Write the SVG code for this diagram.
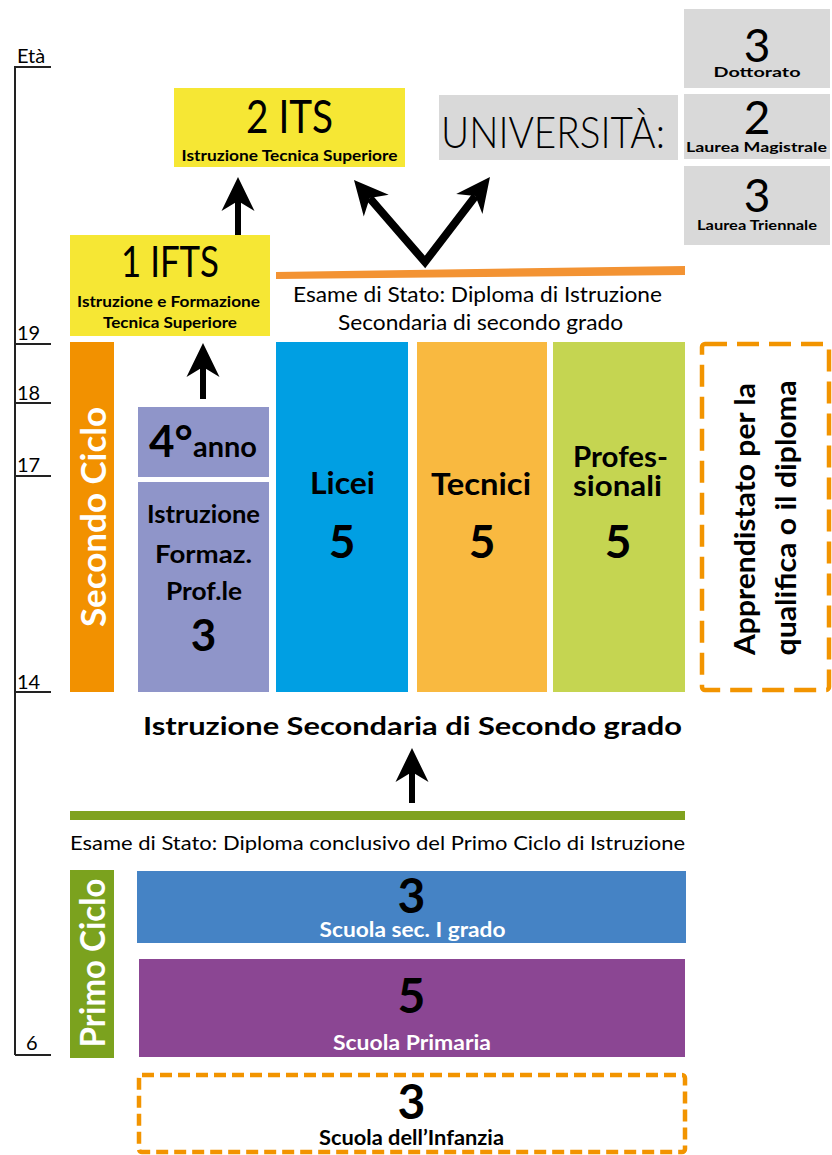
<svg xmlns="http://www.w3.org/2000/svg" width="832" height="1155" viewBox="0 0 832 1155">
<style>
text{font-family:Lato,"Open Sans","Liberation Sans",sans-serif;fill:#000}
.b{font-weight:700}
.w{fill:#fff}
.m{text-anchor:middle}
.ax{stroke:#222;stroke-width:2;fill:none}
.age{font-size:20px}
.dash{fill:none;stroke:#F29400;stroke-width:4.5}
.uni{fill:#D9D9D9}
.yel{fill:#F6E734}
</style>
<defs>
<marker id="ah" markerUnits="userSpaceOnUse" markerWidth="40" markerHeight="40" viewBox="-2 -20 40 40" refX="10" refY="0" orient="auto-start-reverse">
<path d="M34,0 L0,-16.5 L10,0 L0,16.5 Z" fill="#000"/>
</marker>
</defs>
<rect width="832" height="1155" fill="#fff"/>

<g id="age-axis">
<path class="ax" d="M15,66 V1055"/>
<path class="ax" d="M15,67 H51 M15,344 H51 M15,403 H51 M15,476 H51 M15,692 H51 M15,1055 H51"/>
<text class="age" x="17" y="63">Età</text>
<text class="age" x="17" y="340">19</text>
<text class="age" x="17" y="400">18</text>
<text class="age" x="17" y="472">17</text>
<text class="age" x="17" y="689">14</text>
<text class="age" x="26" y="1050">6</text>
</g>

<g id="its">
<rect class="yel" x="174" y="88" width="231" height="79"/>
<text class="m" x="289.5" y="133" font-size="46" textLength="87" lengthAdjust="spacingAndGlyphs">2 ITS</text>
<text class="b m" x="289.5" y="161" font-size="15" textLength="216" lengthAdjust="spacingAndGlyphs">Istruzione Tecnica Superiore</text>
</g>

<g id="ifts">
<rect class="yel" x="70" y="235" width="200" height="101"/>
<text class="m" x="170" y="277" font-size="42" textLength="98" lengthAdjust="spacingAndGlyphs">1 IFTS</text>
<text class="b m" x="168.5" y="307" font-size="15" textLength="183" lengthAdjust="spacingAndGlyphs">Istruzione e Formazione</text>
<text class="b m" x="170" y="328" font-size="15" textLength="134" lengthAdjust="spacingAndGlyphs">Tecnica Superiore</text>
</g>

<g id="universita">
<rect class="uni" x="439" y="95" width="239" height="65"/>
<text x="441" y="148" font-size="44" font-weight="300" textLength="224" lengthAdjust="spacingAndGlyphs">UNIVERSITÀ:</text>
</g>

<g id="dottorato">
<rect class="uni" x="684" y="9" width="146" height="79"/>
<text class="m" x="757" y="62" font-size="46">3</text>
<text class="b m" x="757" y="77" font-size="14" textLength="87" lengthAdjust="spacingAndGlyphs">Dottorato</text>
</g>

<g id="magistrale">
<rect class="uni" x="684" y="94" width="146" height="65"/>
<text class="m" x="757" y="134" font-size="46">2</text>
<text class="b m" x="756.5" y="152" font-size="14" textLength="141" lengthAdjust="spacingAndGlyphs">Laurea Magistrale</text>
</g>

<g id="triennale">
<rect class="uni" x="684" y="166" width="146" height="79"/>
<text class="m" x="757" y="212" font-size="46">3</text>
<text class="b m" x="757" y="230" font-size="14" textLength="120" lengthAdjust="spacingAndGlyphs">Laurea Triennale</text>
</g>

<g id="esame-secondo">
<polygon points="276,272 685,266 685,275 276,279" fill="#F39333"/>
<text class="m" x="477.5" y="302" font-size="21" textLength="369" lengthAdjust="spacingAndGlyphs">Esame di Stato: Diploma di Istruzione</text>
<text class="m" x="480.5" y="330" font-size="21" textLength="285" lengthAdjust="spacingAndGlyphs">Secondaria di secondo grado</text>
</g>

<g id="secondo-ciclo">
<rect x="70" y="342" width="44" height="350" fill="#F29100"/>
<text class="b w m" transform="translate(106,517) rotate(-90)" font-size="34" textLength="220" lengthAdjust="spacingAndGlyphs">Secondo Ciclo</text>
</g>

<g id="quarto-anno">
<rect x="138" y="407" width="131" height="70" fill="#8F95C9"/>
<text class="b" y="457"><tspan x="149" font-size="44">4°</tspan><tspan x="193" font-size="28" textLength="64" lengthAdjust="spacingAndGlyphs">anno</tspan></text>
</g>

<g id="iefp">
<rect x="138" y="482" width="131" height="210" fill="#8F95C9"/>
<text class="b m" x="203.5" y="523" font-size="25" textLength="113" lengthAdjust="spacingAndGlyphs">Istruzione</text>
<text class="b m" x="203.5" y="563" font-size="25" textLength="97" lengthAdjust="spacingAndGlyphs">Formaz.</text>
<text class="b m" x="204" y="600" font-size="25" textLength="76" lengthAdjust="spacingAndGlyphs">Prof.le</text>
<text class="b m" x="203.5" y="651" font-size="44">3</text>
</g>

<g id="licei">
<rect x="276" y="342" width="132" height="350" fill="#009FE3"/>
<text class="b m" x="342.5" y="494" font-size="30" textLength="65" lengthAdjust="spacingAndGlyphs">Licei</text>
<text class="b m" x="342" y="558" font-size="46">5</text>
</g>

<g id="tecnici">
<rect x="417" y="342" width="130" height="350" fill="#F9B940"/>
<text class="b m" x="481" y="495" font-size="30" textLength="100" lengthAdjust="spacingAndGlyphs">Tecnici</text>
<text class="b m" x="482" y="558" font-size="46">5</text>
</g>

<g id="professionali">
<rect x="553" y="342" width="132" height="350" fill="#C5D551"/>
<text class="b m" x="620.5" y="467" font-size="28" textLength="95" lengthAdjust="spacingAndGlyphs">Profes-</text>
<text class="b m" x="617.5" y="496" font-size="28" textLength="89" lengthAdjust="spacingAndGlyphs">sionali</text>
<text class="b m" x="618" y="558" font-size="46">5</text>
</g>

<g id="apprendistato">
<rect class="dash" x="702" y="344" width="127" height="346" rx="3" stroke-dasharray="22 10"/>
<text class="b m" transform="translate(755,519) rotate(-90)" font-size="28" textLength="272" lengthAdjust="spacingAndGlyphs">Apprendistato per la</text>
<text class="b m" transform="translate(796,518) rotate(-90)" font-size="28" textLength="275" lengthAdjust="spacingAndGlyphs">qualifica o il diploma</text>
</g>

<g id="secondaria-label">
<text class="b m" x="412.5" y="735" font-size="24" textLength="539" lengthAdjust="spacingAndGlyphs">Istruzione Secondaria di Secondo grado</text>
</g>

<g id="esame-primo">
<rect x="70" y="811" width="615" height="9" fill="#80A21F"/>
<text class="m" x="377.5" y="850" font-size="20" textLength="615" lengthAdjust="spacingAndGlyphs">Esame di Stato: Diploma conclusivo del Primo Ciclo di Istruzione</text>
</g>

<g id="primo-ciclo">
<rect x="70" y="870" width="44" height="188" fill="#7BA21E"/>
<text class="b w m" transform="translate(105,963) rotate(-90)" font-size="34" textLength="169" lengthAdjust="spacingAndGlyphs">Primo Ciclo</text>
</g>

<g id="secondaria-primo-grado">
<rect x="137" y="871" width="549" height="72" fill="#4583C5"/>
<text class="b m" x="411.5" y="913" font-size="48">3</text>
<text class="b w m" x="412.5" y="937" font-size="20" textLength="186" lengthAdjust="spacingAndGlyphs">Scuola sec. I grado</text>
</g>

<g id="primaria">
<rect x="139" y="959" width="546" height="98" fill="#8B4693"/>
<text class="b m" x="411.5" y="1013" font-size="48">5</text>
<text class="b w m" x="412" y="1050" font-size="20" textLength="158" lengthAdjust="spacingAndGlyphs">Scuola Primaria</text>
</g>

<g id="infanzia">
<rect class="dash" x="139" y="1075" width="546" height="77" rx="3" stroke-dasharray="12 6"/>
<text class="b m" x="411.5" y="1119" font-size="48">3</text>
<text class="b m" x="411.5" y="1145" font-size="20" textLength="185" lengthAdjust="spacingAndGlyphs">Scuola dell’Infanzia</text>
</g>

<g id="connectors" fill="none" stroke="#000">
<line x1="238" y1="235" x2="238" y2="201" stroke-width="6" marker-end="url(#ah)"/>
<line x1="203" y1="399" x2="203" y2="367" stroke-width="6" marker-end="url(#ah)"/>
<line x1="412" y1="803" x2="412" y2="772" stroke-width="6" marker-end="url(#ah)"/>
<path d="M369.7,198.1 L425,262 L475.4,196.1" stroke-width="8" stroke-linejoin="miter" marker-start="url(#ah)" marker-end="url(#ah)"/>
</g>
</svg>
